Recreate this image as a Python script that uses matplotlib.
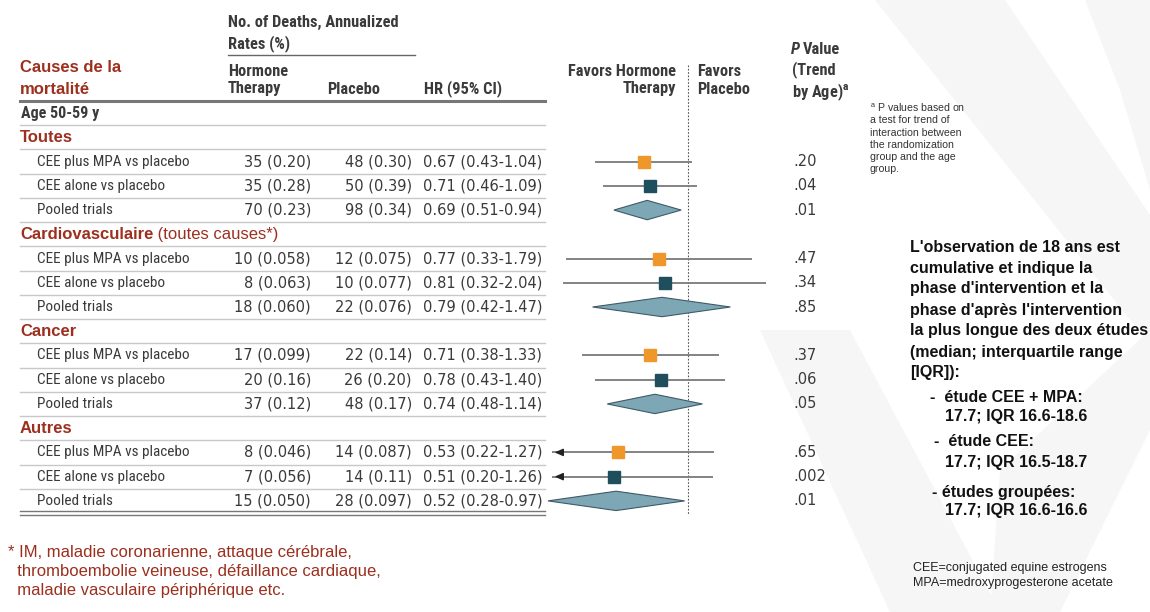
import numpy as np
import matplotlib
matplotlib.use("Agg")
import matplotlib.pyplot as plt
import matplotlib.transforms as mtransforms
from matplotlib import font_manager
from matplotlib.patches import Polygon
from matplotlib.lines import Line2D

# données
groupes = ["Toutes", "Cardiovasculaire", "Cancer", "Autres"]
comparaisons = ["CEE plus MPA vs placebo", "CEE alone vs placebo", "Pooled trials"]
ht_deces = [35, 35, 70, 10, 8, 18, 17, 20, 37, 8, 7, 15]
ht_taux = ["0.20", "0.28", "0.23", "0.058", "0.063", "0.060",
           "0.099", "0.16", "0.12", "0.046", "0.056", "0.050"]
pl_deces = [48, 50, 98, 12, 10, 22, 22, 26, 48, 14, 14, 28]
pl_taux = ["0.30", "0.39", "0.34", "0.075", "0.077", "0.076",
           "0.14", "0.20", "0.17", "0.087", "0.11", "0.097"]
hr = [0.67, 0.71, 0.69, 0.77, 0.81, 0.79, 0.71, 0.78, 0.74, 0.53, 0.51, 0.52]
hr_bas = [0.43, 0.46, 0.51, 0.33, 0.32, 0.42, 0.38, 0.43, 0.48, 0.22, 0.20, 0.28]
hr_haut = [1.04, 1.09, 0.94, 1.79, 2.04, 1.47, 1.33, 1.40, 1.14, 1.27, 1.26, 0.97]
p_valeurs = [".20", ".04", ".01", ".47", ".34", ".85", ".37", ".06", ".05",
             ".65", ".002", ".01"]

ROUGE = "#9c2f1e"
GRIS_TXT = "#3a3a3a"
ORANGE = "#f0972c"
TEAL = "#1f4f5c"
LOSANGE = "#7ea7b6"
ARIAL = ["Liberation Sans", "DejaVu Sans"]
CHIFFRES = ["DejaVu Sans"]

# police étroite pour le tableau, si disponible
dispo = {f.name for f in font_manager.fontManager.ttflist}
NARROW = ["DejaVu Sans"]
for nom in ["Liberation Sans Narrow", "Roboto Condensed", "Open Sans Condensed", "Lato"]:
    if nom in dispo:
        NARROW = [nom, "DejaVu Sans"]
        break

W, H = 1150, 612


def fx(x):
    return x / W


def fy(y):
    return 1 - y / H


fig = plt.figure(figsize=(11.5, 6.12), dpi=100)
fig.patch.set_facecolor("white")

# filigrane gris clair
fond = fig.add_axes([0, 0, 1, 1], zorder=-5)
fond.set_xlim(0, W)
fond.set_ylim(H, 0)
fond.axis("off")
for pts in [[(875, 0), (1005, 0), (1150, 215), (1150, 345)],
            [(1085, 0), (1150, 0), (1150, 190), (1120, 90)],
            [(760, 330), (850, 330), (1000, 612), (890, 612)],
            [(1000, 470), (1150, 330), (1150, 430), (1060, 612), (990, 612)]]:
    fond.add_patch(Polygon(pts, closed=True, fc="#f6f6f6", ec="none"))

# axe du forest plot (échelle log)
x0, x1 = 0.29, 2.4
px_gauche = 688 + 110 * np.log(x0)
px_droite = 688 + 110 * np.log(x1)
ax = fig.add_axes([fx(px_gauche), fy(513), fx(px_droite) - fx(px_gauche), 412 / H])
ax.set_xscale("log")
ax.set_xlim(x0, x1)
ax.set_ylim(16.5, -0.5)
ax.axis("off")
ax.patch.set_alpha(0)

tr = mtransforms.blended_transform_factory(fig.transFigure, ax.transData)

# ligne de référence
ax.plot([1, 1], [-2.0, 16.6], ls=(0, (1.5, 1.5)), color="#555555", lw=0.8,
        clip_on=False, zorder=1)

# en-têtes
fsh = 11.8
def entete(x, y, s, ha="left", **kw):
    return fig.text(fx(x), fy(y), s, fontsize=fsh, family=NARROW, weight="bold",
                    color=GRIS_TXT, va="center", ha=ha, **kw)

entete(228, 22, "No. of Deaths, Annualized")
entete(228, 44, "Rates (%)")
fig.add_artist(Line2D([fx(228), fx(415)], [fy(55), fy(55)], color="#666666", lw=1.0))
fig.text(fx(20), fy(68), "Causes de la", fontsize=12, family=ARIAL,
         weight="bold", color=ROUGE, va="center")
fig.text(fx(20), fy(90), "mortalité", fontsize=12, family=ARIAL,
         weight="bold", color=ROUGE, va="center")
entete(228, 71, "Hormone")
entete(228, 89, "Therapy")
entete(327, 89, "Placebo")
entete(424, 89, "HR (95% CI)")
entete(676, 71, "Favors Hormone", ha="right")
entete(676, 89, "Therapy", ha="right")
entete(697, 71, "Favors")
entete(697, 89, "Placebo")
entete(791, 49, "P", style="italic")
entete(803, 49, "Value")
entete(792, 70, "(Trend")
entete(792, 92, "by Age)$^\\mathregular{a}$")

# filets du tableau
def filet(r, lw, color):
    ax.add_line(Line2D([fx(20), fx(545)], [r, r], transform=tr, lw=lw,
                       color=color, clip_on=False))

filet(-0.5, 2.2, "#777777")
for r in range(16):
    filet(r + 0.5, 1.0, "#c8c8c8")
filet(16.42, 1.0, "#777777")
filet(16.58, 1.0, "#777777")

fs = 11
fsn = 10.5
ax.text(fx(21), 0, "Age 50-59 y", transform=tr, fontsize=11.5, family=NARROW,
        weight="bold", color=GRIS_TXT, va="center")

for g, nom in enumerate(groupes):
    r0 = 1 + 4 * g
    t = ax.text(fx(20), r0, nom, transform=tr, fontsize=12, family=ARIAL,
                weight="bold", color=ROUGE, va="center")
    if nom == "Cardiovasculaire":
        ax.annotate(" (toutes causes*)", xycoords=t, xy=(1, 0.5), va="center",
                    fontsize=12, family=ARIAL, color=ROUGE)
    for k, comp in enumerate(comparaisons):
        i = 3 * g + k
        r = r0 + 1 + k
        ax.text(fx(37), r, comp, transform=tr, fontsize=fs, family=NARROW,
                color=GRIS_TXT, va="center")
        ax.text(fx(311), r, f"{ht_deces[i]} ({ht_taux[i]})", transform=tr,
                fontsize=fsn, family=CHIFFRES, color=GRIS_TXT, va="center", ha="right")
        ax.text(fx(412), r, f"{pl_deces[i]} ({pl_taux[i]})", transform=tr,
                fontsize=fsn, family=CHIFFRES, color=GRIS_TXT, va="center", ha="right")
        ax.text(fx(423), r, f"{hr[i]:.2f} ({hr_bas[i]:.2f}-{hr_haut[i]:.2f})",
                transform=tr, fontsize=fsn, family=CHIFFRES, color=GRIS_TXT, va="center")
        ax.text(fx(793), r, p_valeurs[i], transform=tr, fontsize=fsn, family=CHIFFRES,
                color=GRIS_TXT, va="center")

        if k < 2:
            gauche = max(hr_bas[i], x0)
            ax.plot([gauche, hr_haut[i]], [r, r], color="#7a7a7a", lw=1.3,
                    solid_capstyle="butt", zorder=2)
            if hr_bas[i] < x0:
                ax.annotate("", xy=(x0, r), xytext=(x0 * 1.12, r),
                            arrowprops=dict(arrowstyle="-|>,head_width=0.22,head_length=0.5",
                                            color="#222222", lw=1.0),
                            annotation_clip=False)
            ax.plot([hr[i]], [r], marker="s", ms=8.5,
                    color=ORANGE if k == 0 else TEAL, zorder=3)
        else:
            ax.add_patch(Polygon([(hr_bas[i], r), (hr[i], r - 0.4),
                                  (hr_haut[i], r), (hr[i], r + 0.4)],
                                 closed=True, fc=LOSANGE, ec="#3f5a66", lw=0.8,
                                 clip_on=False, zorder=3))

# note a
note_a = ["$^\\mathregular{a}$ P values based on", "a test for trend of",
          "interaction between", "the randomization", "group and the age", "group."]
for j, ligne in enumerate(note_a):
    fig.text(fx(870), fy(108 + 12.3 * j), ligne, fontsize=7.6, family=ARIAL,
             color="#333333", va="center")

# texte de droite
bloc = ["L'observation de 18 ans est", "cumulative et indique la",
        "phase d'intervention et la", "phase d'après l'intervention",
        "la plus longue des deux études", "(median; interquartile range", "[IQR]):"]
for j, ligne in enumerate(bloc):
    fig.text(fx(910), fy(247 + 21 * j), ligne, fontsize=11.5, family=ARIAL,
             weight="bold", color="#111111", va="center")
sous = [(930, 397, "-  étude CEE + MPA:"), (945, 417, "17.7; IQR 16.6-18.6"),
        (934, 442, "-  étude CEE:"), (945, 462, "17.7; IQR 16.5-18.7"),
        (932, 492, "- études groupées:"), (945, 511, "17.7; IQR 16.6-16.6")]
for x, y, ligne in sous:
    fig.text(fx(x), fy(y), ligne, fontsize=11.5, family=ARIAL, weight="bold",
             color="#111111", va="center")

fig.text(fx(913), fy(568), "CEE=conjugated equine estrogens", fontsize=9,
         family=ARIAL, color="#222222", va="center")
fig.text(fx(913), fy(583), "MPA=medroxyprogesterone acetate", fontsize=9,
         family=ARIAL, color="#222222", va="center")

# note astérisque
etoile = ["* IM, maladie coronarienne, attaque cérébrale,",
          "  thromboembolie veineuse, défaillance cardiaque,",
          "  maladie vasculaire périphérique etc."]
for j, ligne in enumerate(etoile):
    fig.text(fx(8), fy(553 + 18.5 * j), ligne, fontsize=12, family=ARIAL,
             color=ROUGE, va="center")

fig.savefig("out.png", dpi=100)
